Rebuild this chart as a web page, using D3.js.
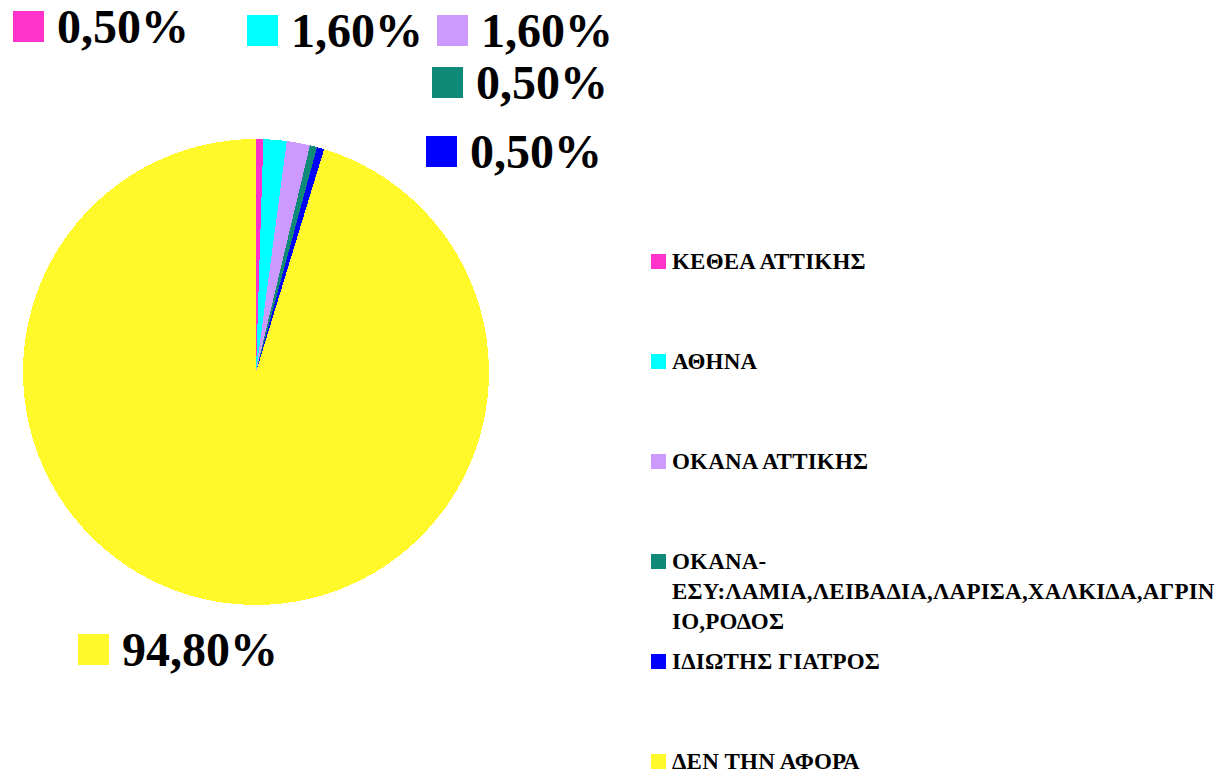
<!DOCTYPE html>
<html>
<head>
<meta charset="utf-8">
<script src="https://cdn.jsdelivr.net/npm/d3@7"></script>
<style>
  html, body { margin: 0; padding: 0; background: #fff; }
  svg { display: block; }
  text { font-family: "Liberation Serif", "Times New Roman", serif; font-weight: bold; fill: #000; }
</style>
</head>
<body>
<svg id="chart" width="1223" height="776"></svg>
<script>
// Categories, shares (%) and slice colours
const categories = [
  "ΚΕΘΕΑ ΑΤΤΙΚΗΣ",
  "ΑΘΗΝΑ",
  "ΟΚΑΝΑ ΑΤΤΙΚΗΣ",
  "ΟΚΑΝΑ-ΕΣΥ:ΛΑΜΙΑ,ΛΕΙΒΑΔΙΑ,ΛΑΡΙΣΑ,ΧΑΛΚΙΔΑ,ΑΓΡΙΝΙΟ,ΡΟΔΟΣ",
  "ΙΔΙΩΤΗΣ ΓΙΑΤΡΟΣ",
  "ΔΕΝ ΤΗΝ ΑΦΟΡΑ"
];
const values = [0.5, 1.6, 1.6, 0.5, 0.5, 94.8];
const colors = ["#FF33CC", "#00FFFF", "#CC99FF", "#108A78", "#0000FF", "#FFF92A"];

// Legend text, split into the lines it wraps to
const legendLines = [
  ["ΚΕΘΕΑ ΑΤΤΙΚΗΣ"],
  ["ΑΘΗΝΑ"],
  ["ΟΚΑΝΑ ΑΤΤΙΚΗΣ"],
  ["ΟΚΑΝΑ-", "ΕΣΥ:ΛΑΜΙΑ,ΛΕΙΒΑΔΙΑ,ΛΑΡΙΣΑ,ΧΑΛΚΙΔΑ,ΑΓΡΙΝ", "ΙΟ,ΡΟΔΟΣ"],
  ["ΙΔΙΩΤΗΣ ΓΙΑΤΡΟΣ"],
  ["ΔΕΝ ΤΗΝ ΑΦΟΡΑ"]
];

const fmt = v => v.toFixed(2).replace(".", ",") + "%";

const svg = d3.select("#chart");

// Pie
const cx = 256, cy = 372, radius = 233;
const pie = d3.pie().sort(null).value(d => d)(values);
const arc = d3.arc().innerRadius(0).outerRadius(radius);

const g = svg.append("g").attr("transform", `translate(${cx},${cy})`);
g.selectAll("path")
  .data(pie)
  .join("path")
  .attr("d", arc)
  .attr("fill", (d, i) => colors[i])
  .attr("shape-rendering", "crispEdges");

// Percentage labels, each with its colour key (top-left of the key)
const labelPos = [
  [13, 11], [247, 15], [437, 15], [432, 67], [426, 136], [78, 634]
];
const lab = svg.append("g").selectAll("g")
  .data(pie)
  .join("g")
  .attr("transform", (d, i) => `translate(${labelPos[i][0]},${labelPos[i][1]})`);
lab.append("rect")
  .attr("width", 31).attr("height", 31)
  .attr("fill", (d, i) => colors[i]);
lab.append("text")
  .attr("x", 44).attr("y", 32)
  .attr("font-size", 48)
  .text(d => fmt(d.data));

// Legend (row baselines)
const rowY = [269, 369, 469, 569, 669, 769];
const leg = svg.append("g").selectAll("g")
  .data(categories)
  .join("g")
  .attr("transform", (d, i) => `translate(651,${rowY[i]})`);
leg.append("rect")
  .attr("x", 0).attr("y", -15)
  .attr("width", 15).attr("height", 15)
  .attr("fill", (d, i) => colors[i]);
leg.each(function(d, i) {
  d3.select(this).selectAll("text")
    .data(legendLines[i])
    .join("text")
    .attr("x", 21)
    .attr("y", (t, j) => j * 30)
    .attr("font-size", 23)
    .attr("letter-spacing", 0.2)
    .text(t => t);
});
</script>
</body>
</html>
